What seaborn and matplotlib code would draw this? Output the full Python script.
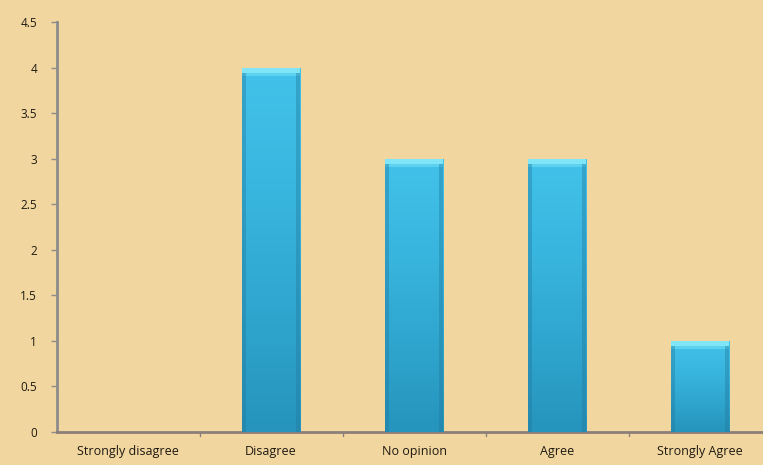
import numpy as np
import pandas as pd
import matplotlib
matplotlib.use("Agg")
import matplotlib.pyplot as plt
import seaborn as sns
from matplotlib.colors import LinearSegmentedColormap

categories = ["Strongly disagree", "Disagree", "No opinion", "Agree", "Strongly Agree"]
counts = [0, 4, 3, 3, 1]
y_ticks = [0, 0.5, 1, 1.5, 2, 2.5, 3, 3.5, 4, 4.5]
y_tick_labels = ["0", "0.5", "1", "1.5", "2", "2.5", "3", "3.5", "4", "4.5"]

bg = "#F2D69F"
sns.set_theme(style="white")
plt.rcParams["font.family"] = ["Open Sans", "DejaVu Sans"]

df = pd.DataFrame({"category": categories, "count": counts})

fig = plt.figure(figsize=(7.63, 4.65), dpi=100, facecolor=bg)
W, H = 763, 465
ax = fig.add_axes([56.5 / W, 33 / H, 715 / W, 410 / H], facecolor=bg)

sns.barplot(data=df, x="category", y="count", ax=ax, color="#3BB8E0",
            width=0.41, edgecolor="none", zorder=2)

ax.set_ylim(0, 4.5)
ax.set_xlim(-0.5, len(categories) - 0.5)

# vertical gradient fill + light top cap on each bar
cmap = LinearSegmentedColormap.from_list(
    "barfill", ["#2694BC", "#2FA6CF", "#39B6DF", "#42C2EA"])
grad = np.linspace(0, 1, 256).reshape(-1, 1)
for patch in ax.patches:
    x0, y0 = patch.get_x(), patch.get_y()
    w, h = patch.get_width(), patch.get_height()
    if h <= 0:
        continue
    img = ax.imshow(grad, cmap=cmap, aspect="auto", origin="lower",
                    extent=[x0, x0 + w, y0, y0 + h], zorder=3,
                    interpolation="bicubic")
    img.set_clip_path(patch)
    cap = 0.06
    ax.fill_between([x0, x0 + w], y0 + h - cap, y0 + h,
                    color="#80E6F7", zorder=4, linewidth=0)
    ax.fill_between([x0, x0 + w], y0 + h - cap - 0.03, y0 + h - cap,
                    color="#5CD2F0", zorder=4, linewidth=0)
    # darker side edges
    ax.fill_between([x0, x0 + w * 0.07], y0, y0 + h - cap,
                    color="#22789C", alpha=0.4, zorder=4, linewidth=0)
    ax.fill_between([x0 + w * 0.93, x0 + w], y0, y0 + h - cap,
                    color="#22789C", alpha=0.4, zorder=4, linewidth=0)
    patch.set_alpha(0)

ax.set_yticks(y_ticks)
ax.set_yticklabels(y_tick_labels)
ax.set_xticks(range(len(categories)))
ax.set_xticklabels(categories)
ax.set_xlabel("")
ax.set_ylabel("")

for side in ["top", "right"]:
    ax.spines[side].set_visible(False)
ax.spines["left"].set_color("#8C8C8C")
ax.spines["left"].set_linewidth(2)
ax.spines["bottom"].set_color("#8C7F7A")
ax.spines["bottom"].set_linewidth(2)

ax.tick_params(axis="y", length=4, width=1, color="#8C8C8C",
               labelsize=8.5, labelcolor="#1E1A12", pad=10, left=True)
ax.tick_params(axis="x", length=0, labelsize=9, labelcolor="#1E1A12", pad=9)

# category separator ticks on the x axis
for b in np.arange(0.5, len(categories) - 0.5, 1.0):
    ax.plot([b, b], [0, -0.04], color="#8C7F7A", lw=1, clip_on=False, zorder=5)

fig.savefig("out.png", dpi=100, facecolor=bg)
